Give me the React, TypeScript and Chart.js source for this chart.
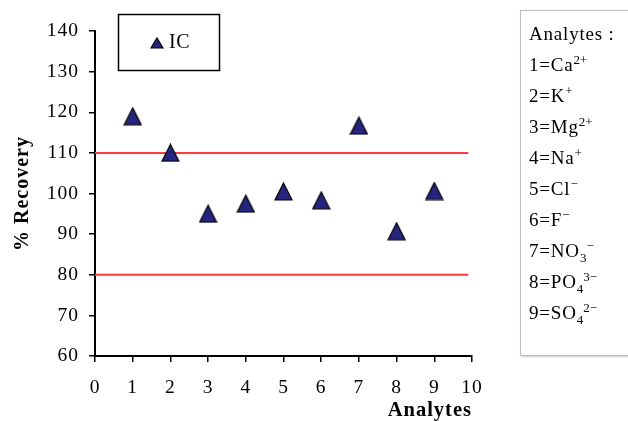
import React, { useEffect, useRef } from "react";
import { Chart, registerables } from "chart.js";

Chart.register(...registerables);

const analyteIds = [1, 2, 3, 4, 5, 6, 7, 8, 9];
const recoveryIC = [119, 110, 95, 97.5, 100.5, 98.3, 116.7, 90.7, 100.6];
const upperLimit = 110;
const lowerLimit = 80;
const limitSpan = [0, 9.9];
const seriesLabel = "IC";
const legendTitle = "Analytes :";
const analyteBase = ["Ca", "K", "Mg", "Na", "Cl", "F", "NO", "PO", "SO"];
const analyteSub = ["", "", "", "", "", "", "3", "4", "4"];
const analyteSup = ["2+", "+", "2+", "+", "\u2212", "\u2212", "\u2212", "3\u2212", "2\u2212"];

const SERIF = "'Times New Roman', 'Liberation Serif', serif";
const MARK = "#25257f";

function makeTriangle(w: number, h: number) {
  const c = document.createElement("canvas");
  c.width = w + 2;
  c.height = h + 2;
  const g = c.getContext("2d")!;
  g.beginPath();
  g.moveTo((w + 2) / 2, 1);
  g.lineTo(w + 1, h + 1);
  g.lineTo(1, h + 1);
  g.closePath();
  g.fillStyle = MARK;
  g.fill();
  g.lineWidth = 1.2;
  g.strokeStyle = "#000";
  g.stroke();
  return c;
}

const spacing = {
  id: "spacing",
  beforeUpdate(chart: any) { (chart.ctx as any).letterSpacing = "1px"; },
  beforeDraw(chart: any) { (chart.ctx as any).letterSpacing = "1px"; },
};

const icLegend = {
  id: "icLegend",
  afterDraw(chart: any) {
    const ctx = chart.ctx;
    ctx.save();
    ctx.lineWidth = 1.5;
    ctx.strokeStyle = "#000";
    ctx.strokeRect(118.5, 14.5, 101, 56);
    const tri = makeTriangle(12, 10);
    ctx.drawImage(tri, 157 - tri.width / 2, 43 - tri.height / 2);
    ctx.fillStyle = "#000";
    ctx.font = `20px ${SERIF}`;
    ctx.letterSpacing = "0.5px";
    ctx.textBaseline = "middle";
    ctx.fillText(chart.data.datasets[0].label, 169, 43);
    ctx.restore();
  },
};

export default function App() {
  const ref = useRef<HTMLCanvasElement>(null);
  useEffect(() => {
    if (!ref.current) return;
    const marker = makeTriangle(17, 17);
    const chart = new Chart(ref.current, {
      type: "scatter",
      data: {
        datasets: [
          {
            label: seriesLabel,
            data: analyteIds.map((x, i) => ({ x, y: recoveryIC[i] })),
            pointStyle: marker,
            pointRadius: 10,
            backgroundColor: MARK,
            borderColor: "#000",
            borderWidth: 1,
            order: 0,
          },
          {
            label: "upper",
            type: "line",
            data: limitSpan.map((x) => ({ x, y: upperLimit })),
            borderColor: "#ff3c3c",
            borderWidth: 2,
            pointRadius: 0,
            order: 1,
          },
          {
            label: "lower",
            type: "line",
            data: limitSpan.map((x) => ({ x, y: lowerLimit })),
            borderColor: "#ff3c3c",
            borderWidth: 2,
            pointRadius: 0,
            order: 1,
          },
        ],
      } as any,
      options: {
        responsive: false,
        animation: false,
        layout: { padding: { top: 31, right: 156, left: 0, bottom: 0 } },
        plugins: { legend: { display: false }, tooltip: { enabled: false } },
        scales: {
          x: {
            type: "linear",
            min: 0,
            max: 10,
            afterFit: (s: any) => { s.height = 65; },
            ticks: { stepSize: 1, color: "#000", padding: 14, font: { family: SERIF, size: 19.5 } },
            grid: { drawOnChartArea: false, drawTicks: true, tickLength: 6, color: "#000", lineWidth: 1.5 },
            border: { color: "#000", width: 2 },
            title: {
              display: true,
              text: "Analytes",
              align: "end",
              color: "#000",
              font: { family: SERIF, size: 20.5, weight: "bold" },
              padding: { top: 0, bottom: -2 },
            },
          },
          y: {
            min: 60,
            max: 140,
            afterFit: (s: any) => { s.width = 95; },
            ticks: { stepSize: 10, color: "#000", padding: 10, font: { family: SERIF, size: 19.5 } },
            grid: { drawOnChartArea: false, drawTicks: true, tickLength: 6, color: "#000", lineWidth: 1.5 },
            border: { color: "#000", width: 2 },
            title: {
              display: true,
              text: "% Recovery",
              color: "#000",
              font: { family: SERIF, size: 20, weight: "bold" },
              padding: { top: 11, bottom: 0 },
            },
          },
        },
      } as any,
      plugins: [spacing, icLegend],
    });
    return () => chart.destroy();
  }, []);

  return (
    <div style={{ position: "fixed", left: 0, top: 0, width: 628, height: 421, overflow: "hidden", background: "#fff" }}>
      <canvas ref={ref} width={628} height={421} style={{ position: "absolute", left: 0, top: 0 }} />
      <div
        style={{
          position: "absolute",
          left: 520,
          top: 10,
          width: 130,
          height: 346,
          border: "1px solid #bdbdbd",
          boxShadow: "1px 1px 2px #d0d0d0",
          boxSizing: "border-box",
          padding: "7px 0 0 8px",
          fontFamily: SERIF,
          fontSize: 19,
          letterSpacing: "0.8px",
          lineHeight: "31px",
          color: "#000",
          background: "#fff",
        }}
      >
        <div>{legendTitle}</div>
        {analyteIds.map((id, i) => (
          <div key={id} style={{ whiteSpace: "nowrap" }}>
            {id}={analyteBase[i]}
            {analyteSub[i] ? <sub style={{ fontSize: 13, lineHeight: 0, letterSpacing: 0 }}>{analyteSub[i]}</sub> : null}
            <sup style={{ fontSize: 13, lineHeight: 0, letterSpacing: 0 }}>{analyteSup[i]}</sup>
          </div>
        ))}
      </div>
    </div>
  );
}
